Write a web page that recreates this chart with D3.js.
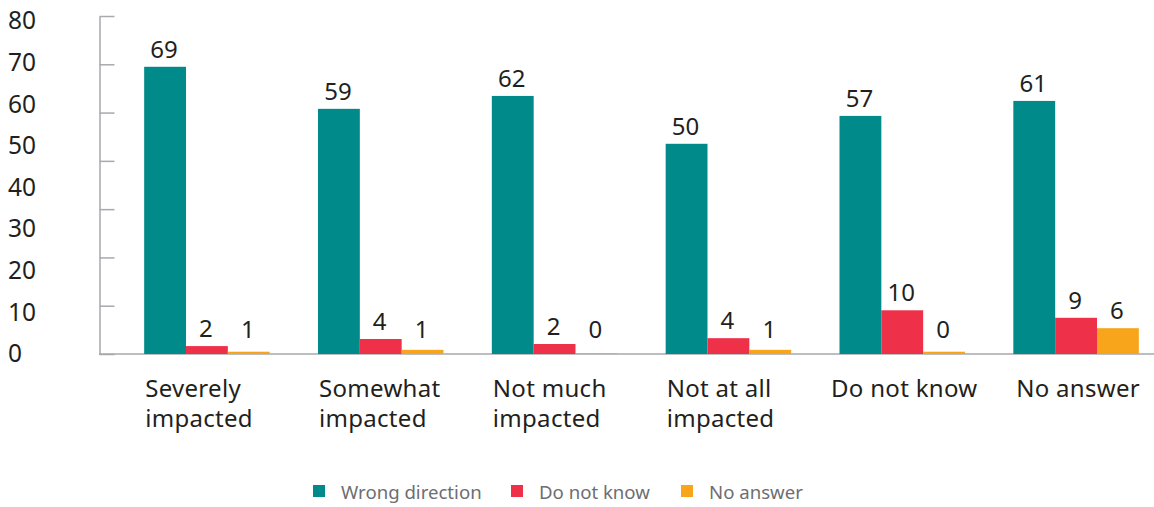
<!DOCTYPE html>
<html>
<head>
<meta charset="utf-8">
<script src="https://cdn.jsdelivr.net/npm/d3@7"></script>
<style>
  html, body { margin: 0; padding: 0; background: #fff; }
  svg { display: block; font-family: "Noto Sans", "DejaVu Sans", sans-serif; }
</style>
</head>
<body>
<svg id="chart" width="1154" height="507"></svg>
<script>
// ---- data ----
const categories = ["Severely impacted", "Somewhat impacted", "Not much impacted", "Not at all impacted", "Do not know", "No answer"];
const seriesNames = ["Wrong direction", "Do not know", "No answer"];
const seriesColors = ["#008b8a", "#ee3049", "#f8a51c"];
// bar heights
const wrongDirection = [69.0, 58.9, 62.0, 50.5, 57.2, 60.8];
const doNotKnow      = [1.9, 3.6, 2.4, 3.8, 10.5, 8.7];
const noAnswer       = [0.55, 1.0, 0.2, 1.0, 0.55, 6.2];
// printed value labels
const wrongLabels = [69, 59, 62, 50, 57, 61];
const dnkLabels   = [2, 4, 2, 4, 10, 9];
const naLabels    = [1, 1, 0, 1, 0, 6];
const yTickLabels = [0, 10, 20, 30, 40, 50, 60, 70, 80];

const values = [wrongDirection, doNotKnow, noAnswer];
const labels = [wrongLabels, dnkLabels, naLabels];

// ---- layout ----
const svg = d3.select("#chart");
const textColor = "#231f20";
const axisColor = "#a7a9ac";

const y = d3.scaleLinear().domain([0, 80]).range([354, 21]);
const x = d3.scaleBand().domain(categories).range([120, 1163]).paddingInner(0.278).paddingOuter(0.139);
const xs = d3.scaleBand().domain(seriesNames).range([0, x.bandwidth()]);

// y-axis labels
const yLab = svg.append("g").attr("transform", "translate(8,0)")
  .call(d3.axisLeft(y).tickValues(yTickLabels).tickSize(0).tickPadding(0).tickFormat(d3.format("d")));
yLab.select(".domain").remove();
yLab.selectAll("text").attr("text-anchor", "start").attr("dx", 0)
  .attr("font-size", 24.5).attr("fill", textColor).style("font-family", "Noto Sans");

// y-axis line with tick marks
const tickScale = d3.scaleLinear().domain([0, 7]).range([354, 16]);
const yAx = svg.append("g").attr("transform", "translate(99.5,0)")
  .call(d3.axisRight(tickScale).ticks(7).tickSize(15).tickSizeOuter(0).tickFormat(""));
yAx.select(".domain").attr("stroke", axisColor).attr("stroke-width", 1.5);
yAx.selectAll(".tick line").attr("stroke", axisColor).attr("stroke-width", 1.5);

// baseline
svg.append("line").attr("x1", 99).attr("x2", 1154).attr("y1", y(0)).attr("y2", y(0))
  .attr("stroke", axisColor).attr("stroke-width", 1.5);

// bars
const groups = svg.append("g").selectAll("g").data(categories).join("g")
  .attr("transform", d => `translate(${x(d)},0)`);

seriesNames.forEach((s, si) => {
  groups.append("rect")
    .attr("x", xs(s))
    .attr("width", xs.bandwidth())
    .attr("y", (d, i) => y(values[si][i]))
    .attr("height", (d, i) => y(0) - y(values[si][i]))
    .attr("fill", seriesColors[si]);
  groups.append("text")
    .attr("x", xs(s) + xs.bandwidth() / 2 - 1)
    .attr("y", (d, i) => Math.min(y(values[si][i]) - 9, 338))
    .attr("text-anchor", "middle")
    .attr("font-size", 24)
    .attr("fill", textColor)
    .text((d, i) => labels[si][i]);
});

// x category labels
const xl = svg.append("g").selectAll("text").data(categories).join("text")
  .attr("font-size", 24).attr("fill", textColor).attr("letter-spacing", 0.3);
xl.each(function(d) {
  const words = d.split(" ");
  let lines;
  if (words.length > 2 && d !== "Do not know") {
    lines = [words.slice(0, -1).join(" "), words[words.length - 1]];
  } else if (d.endsWith("impacted")) {
    lines = [words[0], words[1]];
  } else {
    lines = [d];
  }
  const t = d3.select(this);
  if (lines.length > 1) {
    t.attr("text-anchor", "start");
    lines.forEach((ln, k) => {
      t.append("tspan").attr("x", x(d) + 1).attr("y", 397 + k * 30).text(ln);
    });
  } else {
    t.attr("text-anchor", "middle");
    t.append("tspan").attr("x", x(d) + x.bandwidth() / 2 + 2).attr("y", 397).text(lines[0]);
  }
});

// legend
const legendX = [313, 511, 681];
const leg = svg.append("g").selectAll("g").data(seriesNames).join("g")
  .attr("transform", (d, i) => `translate(${legendX[i]},485)`);
leg.append("rect").attr("width", 12).attr("height", 12).attr("fill", (d, i) => seriesColors[i]);
leg.append("text").attr("x", 28).attr("y", 14).attr("font-size", 18.6)
  .attr("fill", "#6d6e71").text(d => d);
</script>
</body>
</html>
